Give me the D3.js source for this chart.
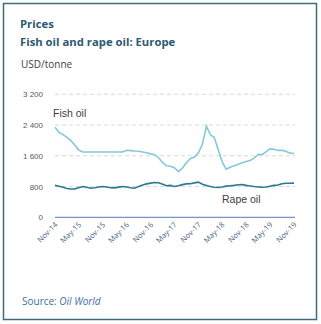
<!DOCTYPE html>
<html>
<head>
<meta charset="utf-8">
<script src="https://cdn.jsdelivr.net/npm/d3@7.9.0/dist/d3.min.js"></script>
<style>
  html, body { margin: 0; padding: 0; background: #fff; }
  svg { display: block; font-family: "Open Sans", "Noto Sans", sans-serif; }
</style>
</head>
<body>
<svg id="chart" width="321" height="324"></svg>
<script>
// ====== DATA ======

// monthly, Nov-14 .. Nov-19
const months = d3.range(61).map((i) => new Date(2014, 10 + i, 1));

const fishOil = [
  2340, 2210, 2150, 2080, 2000, 1880, 1750, 1700, 1700, 1700, 1700, 1700,
  1700, 1700, 1700, 1700, 1700, 1700, 1745, 1735, 1725, 1720, 1700, 1680,
  1650, 1630, 1550, 1420, 1340, 1330, 1290, 1190, 1280, 1420, 1530, 1570,
  1680, 1900, 2370, 2140, 2080, 1760, 1450, 1250, 1300, 1340, 1380, 1420,
  1450, 1480, 1540, 1640, 1630, 1700, 1780, 1770, 1740, 1740, 1720, 1670,
  1660,
];

const rapeOil = [
  830, 810, 780, 750, 735, 740, 770, 800, 780, 755, 770, 790,
  800, 790, 770, 765, 785, 800, 790, 770, 757, 800, 840, 870,
  890, 905, 900, 860, 820, 830, 800, 820, 850, 870, 875, 895,
  915, 860, 830, 800, 780, 775, 790, 810, 820, 830, 845, 850,
  830, 815, 800, 790, 780, 790, 810, 830, 840, 875, 885, 885,
  890,
];

const yTicks = [0, 800, 1600, 2400, 3200];
const xTickLabels = ['Nov-14', 'May-15', 'Nov-15', 'May-16', 'Nov-16', 'May-17',
  'Nov-17', 'May-18', 'Nov-18', 'May-19', 'Nov-19'];

// ====== CHART ======

const svg = d3.select('#chart');

// frame
svg.append('rect')
  .attr('x', 3.5).attr('y', 3.5)
  .attr('width', 313).attr('height', 316)
  .attr('fill', 'none')
  .attr('stroke', '#3f6b7e')
  .attr('stroke-width', 1.5);

// titles
svg.append('text')
  .attr('x', 20).attr('y', 28)
  .attr('font-size', 11.3).attr('font-weight', 'bold')
  .attr('fill', '#2d5a70')
  .text('Prices');

svg.append('text')
  .attr('x', 20).attr('y', 46)
  .attr('font-size', 11.3).attr('font-weight', 'bold')
  .attr('fill', '#2d5a70')
  .text('Fish oil and rape oil: Europe');

svg.append('text')
  .attr('x', 21).attr('y', 68)
  .attr('font-size', 10)
  .attr('fill', '#404040')
  .text('USD/tonne');

const x = d3.scaleTime()
  .domain([months[0], months[months.length - 1]])
  .range([55, 294]);

const y = d3.scaleLinear()
  .domain([0, 3200])
  .range([217.3, 94.3]);

// gridlines
svg.append('g')
  .selectAll('line')
  .data(yTicks.filter((d) => d > 0))
  .join('line')
  .attr('x1', 55).attr('x2', 295)
  .attr('y1', (d) => y(d)).attr('y2', (d) => y(d))
  .attr('stroke', '#d9d9d9')
  .attr('stroke-dasharray', '4,3');

// y axis labels
const fmt = (d) => d3.format(',')(d).replace(',', ' ');
svg.append('g')
  .selectAll('text')
  .data(yTicks)
  .join('text')
  .attr('x', 43)
  .attr('y', (d) => y(d) + 3)
  .attr('text-anchor', 'end')
  .attr('font-family', '"Liberation Sans", Arial, sans-serif')
  .attr('font-size', 8)
  .attr('fill', '#595959')
  .text(fmt);

// baseline
svg.append('line')
  .attr('x1', 55).attr('x2', 295)
  .attr('y1', y(0)).attr('y2', y(0))
  .attr('stroke', '#4a7ebb')
  .attr('stroke-width', 1);

// x labels, rotated
const xTickDates = d3.range(0, 61, 6).map((i) => months[i]);
svg.append('g')
  .selectAll('text')
  .data(xTickDates)
  .join('text')
  .attr('transform', (d, i) => `translate(${x(d) + 3},${y(0) + 8}) rotate(-45)`)
  .attr('text-anchor', 'end')
  .attr('font-size', 7.5)
  .attr('fill', '#4b5f82')
  .text((d, i) => xTickLabels[i]);

// lines
const line = d3.line()
  .x((d, i) => x(months[i]))
  .y((d) => y(d));

svg.append('path')
  .datum(fishOil)
  .attr('d', line)
  .attr('fill', 'none')
  .attr('stroke', '#86c7da')
  .attr('stroke-width', 1.6);

svg.append('path')
  .datum(rapeOil)
  .attr('d', line)
  .attr('fill', 'none')
  .attr('stroke', '#2a7a90')
  .attr('stroke-width', 1.6);

// series labels
svg.append('text')
  .attr('x', 53).attr('y', 117)
  .attr('font-family', '"Liberation Sans", Arial, sans-serif')
  .attr('font-size', 10.5)
  .attr('fill', '#404040')
  .text('Fish oil');

svg.append('text')
  .attr('x', 222).attr('y', 203)
  .attr('font-family', '"Liberation Sans", Arial, sans-serif')
  .attr('font-size', 10.5)
  .attr('fill', '#404040')
  .text('Rape oil');

// source
const src = svg.append('text')
  .attr('x', 22).attr('y', 305)
  .attr('font-size', 10)
  .attr('fill', '#3c6ea8');
src.append('tspan').text('Source: ');
src.append('tspan').attr('font-style', 'italic').text('Oil World');
</script>
</body>
</html>
